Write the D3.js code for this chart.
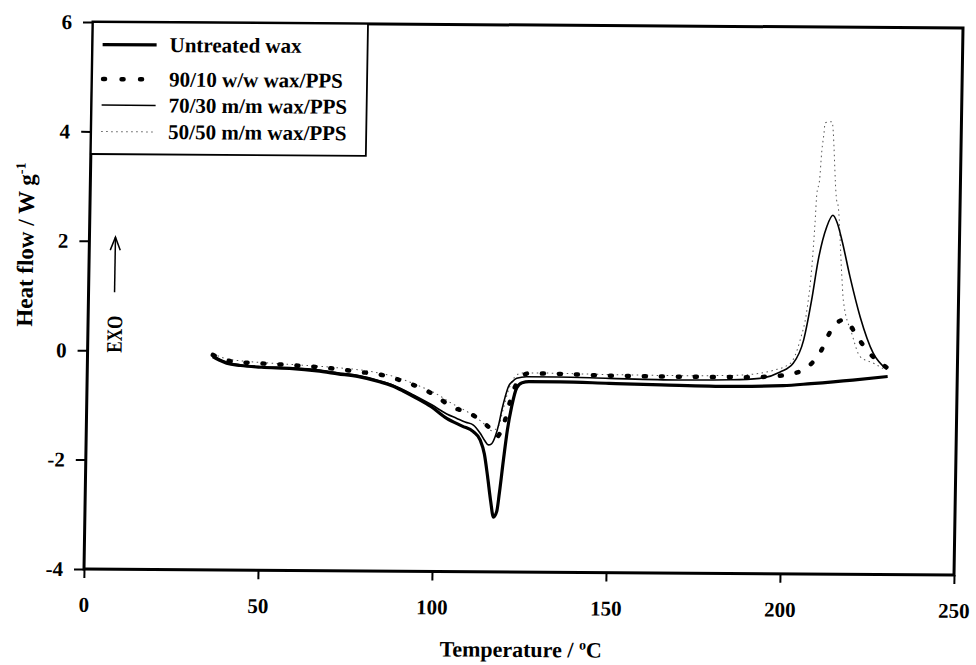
<!DOCTYPE html>
<html>
<head>
<meta charset="utf-8">
<script src="https://cdn.jsdelivr.net/npm/d3@7"></script>
<style>
  body { margin: 0; background: #fff; }
  svg { display: block; }
  text { font-family: "Liberation Serif", "Times New Roman", serif; fill: #000; }
</style>
</head>
<body>
<svg id="chart" width="976" height="665"></svg>
<script>
// Axis ticks
const xTicks = [0, 50, 100, 150, 200, 250];
const yTicks = [-4, -2, 0, 2, 4, 6];

// Legend labels
const seriesNames = ["Untreated wax", "90/10 w/w wax/PPS", "70/30 m/m wax/PPS", "50/50 m/m wax/PPS"];

// DSC traces: temperature (°C) and heat flow (W/g)
const untreatedT  = [36, 38, 40, 44, 50, 59, 66, 72, 78, 84, 88, 91, 94, 99, 103.5, 108, 111.2, 113.2, 114.5, 115.5, 116.5, 117.4, 118.3, 119, 120, 121, 122.1, 123.5, 125, 127, 136, 150, 165, 185, 200, 208, 220, 230];
const untreatedHF = [-0.1, -0.17, -0.22, -0.26, -0.29, -0.31, -0.35, -0.4, -0.45, -0.54, -0.62, -0.71, -0.81, -0.99, -1.2, -1.34, -1.44, -1.59, -1.85, -2.25, -2.7, -3.0, -2.9, -2.55, -1.95, -1.4, -0.98, -0.63, -0.54, -0.52, -0.52, -0.54, -0.56, -0.58, -0.56, -0.52, -0.45, -0.38];

const pps90T  = [36, 39, 42, 50, 59, 70, 78, 85, 90, 95.2, 100, 104.9, 110.2, 115, 117, 118, 119, 120.3, 121.6, 123, 124.5, 126.8, 131, 150, 170, 190, 197, 202, 207.1, 210.9, 213.2, 215, 217, 219, 220.9, 224.9, 229.8];
const pps90HF = [-0.07, -0.15, -0.19, -0.22, -0.25, -0.3, -0.36, -0.42, -0.51, -0.63, -0.78, -0.99, -1.11, -1.32, -1.45, -1.53, -1.45, -1.22, -0.89, -0.61, -0.45, -0.37, -0.37, -0.4, -0.41, -0.41, -0.39, -0.35, -0.21, 0.1, 0.42, 0.58, 0.65, 0.55, 0.36, 0.03, -0.22];

const pps70T  = [36, 40, 44, 50, 59, 66, 72, 78, 84, 88, 94, 99, 103.5, 106.4, 109, 111.2, 113.2, 114.5, 115.6, 116.5, 117.5, 118.5, 119.3, 120.2, 121.1, 122.2, 123.4, 126.3, 135, 150, 170, 185, 193.3, 199.1, 202.8, 205.7, 207.8, 209.5, 211.8, 213.5, 214.8, 216.2, 218.7, 221.8, 225.7, 229.7];
const pps70HF = [-0.08, -0.2, -0.25, -0.28, -0.3, -0.33, -0.38, -0.43, -0.52, -0.6, -0.78, -0.95, -1.12, -1.2, -1.27, -1.32, -1.47, -1.6, -1.68, -1.66, -1.53, -1.3, -1.04, -0.8, -0.61, -0.52, -0.46, -0.43, -0.43, -0.45, -0.47, -0.46, -0.43, -0.31, -0.15, 0.28, 1.01, 1.74, 2.35, 2.56, 2.42, 2.11, 1.44, 0.71, 0.05, -0.25];

const pps50T  = [36, 40, 45, 52, 60, 70, 80, 88, 95, 100, 105, 110, 114, 116.5, 118.3, 119.8, 121.2, 122.8, 125, 130, 150, 170, 185, 193, 197.2, 202, 204.7, 206.5, 207.7, 208.4, 208.8, 209.5, 210, 210.6, 210.8, 212.8, 214.5, 215, 216.3, 216.9, 219.5, 222, 225.9, 229.3];
const pps50HF = [-0.05, -0.14, -0.18, -0.21, -0.24, -0.28, -0.34, -0.44, -0.6, -0.74, -0.93, -1.1, -1.28, -1.42, -1.35, -1.0, -0.66, -0.44, -0.36, -0.36, -0.38, -0.39, -0.38, -0.34, -0.28, -0.15, 0.28, 0.83, 1.62, 2.41, 2.96, 3.2, 3.72, 4.09, 4.25, 4.27, 2.84, 2.72, 1.5, 1.01, 0.4, -0.02, -0.14, -0.26];

const W = 870, H = 547;
const svg = d3.select("#chart");
// the whole figure sits on a slightly sheared frame
const g = svg.append("g").attr("transform", "matrix(1,0.0069,-0.01645,1,93,22)");

const x = d3.scaleLinear().domain([0, 250]).range([0, W]);
const y = d3.scaleLinear().domain([-4, 6]).range([H, 0]);
const plain = d => String(d);   // ASCII hyphen for negatives

// Axes
const yAxis = g.append("g")
  .call(d3.axisLeft(y).tickValues(yTicks).tickFormat(plain).tickSize(10).tickSizeOuter(0).tickPadding(11));
const xAxis = g.append("g").attr("transform", `translate(0,${H})`)
  .call(d3.axisBottom(x).tickValues(xTicks).tickFormat(plain).tickSize(9).tickSizeOuter(0).tickPadding(19));
[yAxis, xAxis].forEach(a => {
  a.select(".domain").remove();
  a.selectAll(".tick line").attr("stroke", "#000").attr("stroke-width", 2);
  a.selectAll(".tick text").attr("font-size", 21).attr("font-weight", "bold")
    .attr("font-family", "'Liberation Serif', serif").attr("fill", "#000");
});

// Plot frame
g.append("rect").attr("x", 0).attr("y", 0).attr("width", W).attr("height", H)
  .attr("fill", "none").attr("stroke", "#000").attr("stroke-width", 3);

// Traces
const line = d3.line().x(d => x(d[0])).y(d => y(d[1])).curve(d3.curveMonotoneX);
const zip = (a, b) => a.map((v, i) => [v, b[i]]);
const styles = [
  { w: 3.2, dash: null, color: "#000", cap: "butt" },
  { w: 4.5, dash: "2 15", color: "#000", cap: "round" },
  { w: 1.6, dash: null, color: "#000", cap: "butt" },
  { w: 1, dash: "1.5 3.5", color: "#555", cap: "butt" }
];
const traces = [zip(untreatedT, untreatedHF), zip(pps90T, pps90HF), zip(pps70T, pps70HF), zip(pps50T, pps50HF)];
[3, 2, 1, 0].forEach(i => {
  g.append("path").datum(traces[i]).attr("d", line)
    .attr("fill", "none").attr("stroke", styles[i].color)
    .attr("stroke-width", styles[i].w).attr("stroke-dasharray", styles[i].dash)
    .attr("stroke-linecap", styles[i].cap).attr("stroke-linejoin", "round");
});

// Legend
const legend = g.append("g");
legend.append("rect").attr("x", 0).attr("y", 0).attr("width", 275).attr("height", 132)
  .attr("fill", "#fff").attr("stroke", "#000").attr("stroke-width", 1.8);
const rowY = [22.5, 57, 83, 109.5];
seriesNames.forEach((name, i) => {
  const dotted = i === 1;
  legend.append("line").attr("x1", dotted ? 11 : 10).attr("x2", 64).attr("y1", rowY[i]).attr("y2", rowY[i])
    .attr("stroke", styles[i].color).attr("stroke-width", styles[i].w)
    .attr("stroke-dasharray", dotted ? "2 16.5" : styles[i].dash).attr("stroke-linecap", styles[i].cap);
  legend.append("text").attr("x", 77).attr("y", rowY[i] + 7)
    .attr("font-size", 21).attr("font-weight", "bold").text(name);
});

// Axis titles
const yt = g.append("text").attr("transform", "translate(-56,223) rotate(-90)")
  .attr("text-anchor", "middle").attr("font-size", 23).attr("font-weight", "bold");
yt.append("tspan").text("Heat flow / W g");
yt.append("tspan").attr("font-size", 14).attr("dy", -9).text("-1");

const xt = g.append("text").attr("x", 438).attr("y", 632)
  .attr("text-anchor", "middle").attr("font-size", 22).attr("font-weight", "bold");
xt.append("tspan").text("Temperature / ");
xt.append("tspan").attr("font-size", 14).attr("dy", -8).text("o");
xt.append("tspan").attr("dy", 8).text("C");

// EXO direction marker
g.append("text").attr("transform", "translate(34,312) rotate(-90)")
  .attr("text-anchor", "middle").attr("font-size", 22).attr("font-weight", "bold")
  .attr("textLength", 37).attr("lengthAdjust", "spacingAndGlyphs").text("EXO");
const arrow = g.append("g").attr("stroke", "#000").attr("stroke-width", 1.5).attr("fill", "none");
arrow.append("line").attr("x1", 26).attr("x2", 26).attr("y1", 270).attr("y2", 215);
arrow.append("path").attr("d", "M21,228 L26,215 L31,228");
</script>
</body>
</html>
